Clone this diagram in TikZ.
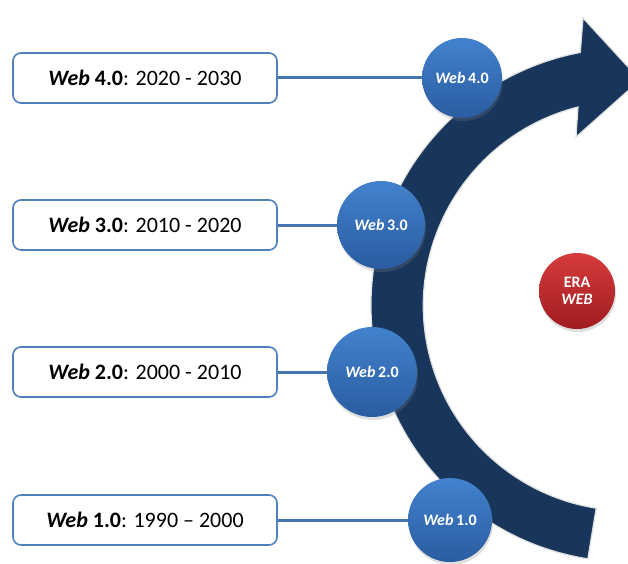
\documentclass[tikz,border=0pt]{standalone}
\usepackage{fontspec}
\setmainfont{Carlito}
\usetikzlibrary{shadows,calc}
\definecolor{navy}{RGB}{24,54,92}
\definecolor{boxblue}{RGB}{79,129,189}
\definecolor{linkblue}{RGB}{70,118,178}
\definecolor{ctop}{RGB}{66,130,205}
\definecolor{cbot}{RGB}{42,92,160}
\definecolor{rtop}{RGB}{214,60,60}
\definecolor{rbot}{RGB}{160,28,32}
\tikzset{
  erabox/.style={draw=boxblue, line width=1.6pt, rounded corners=8pt, fill=white,
    minimum width=264pt, minimum height=50pt, inner sep=0pt,
    font=\fontsize{22}{26}\selectfont},
  eraball/.style={circle, inner sep=0pt, text=white, top color=ctop, bottom color=cbot,
    font=\fontsize{16}{18}\selectfont\bfseries,
    drop shadow={opacity=0.25, shadow xshift=1pt, shadow yshift=-3pt}},
  link/.style={draw=linkblue, line width=3pt},
}
\begin{document}
\begin{tikzpicture}[x=1pt,y=1pt]
\useasboundingbox (0,0) rectangle (628,563);
\clip (0,0) rectangle (628,563);
\fill[white] (0,0) rectangle (628,563);
% arc band with arrow
\coordinate (ctr) at (628,258);
\draw[fill=navy, draw=gray!25, line width=1.2pt, line join=miter]
  ($(ctr)+(261:257)$) arc[start angle=261, end angle=100.7, radius=257]
  -- (583,545) -- (640,483) -- (576,426) -- (578,456)
  arc[start angle=104.2, end angle=261, radius=205] -- cycle;
% boxes
\node[erabox] (b4) at (145,485) {\textbf{\textit{Web} 4.0}: 2020 - 2030};
\node[erabox] (b3) at (145,338) {\textbf{\textit{Web} 3.0}: 2010 - 2020};
\node[erabox] (b2) at (145,191) {\textbf{\textit{Web} 2.0}: 2000 - 2010};
\node[erabox] (b1) at (145,43)  {\textbf{\textit{Web} 1.0}: 1990 – 2000};
% connectors (drawn under the circles)
\coordinate (k4) at (462,485);
\coordinate (k3) at (381,338);
\coordinate (k2) at (372,191);
\coordinate (k1) at (450,43);
\draw[link] (b4.east) -- (k4);
\draw[link] (b3.east) -- (k3);
\draw[link] (b2.east) -- (k2);
\draw[link] (b1.east) -- (k1);
% circles
\node[eraball, minimum size=80pt] (c4) at (k4) {\textit{Web}\,4.0};
\node[eraball, minimum size=88pt] (c3) at (k3) {\textit{Web}\,3.0};
\node[eraball, minimum size=90pt] (c2) at (k2) {\textit{Web}\,2.0};
\node[eraball, minimum size=84pt] (c1) at (k1) {\textit{Web}\,1.0};
\node[eraball, minimum size=76pt, top color=rtop, bottom color=rbot, align=center,
  font=\fontsize{16}{17}\selectfont\bfseries] (era) at (577,272) {ERA\\\textit{WEB}};
\end{tikzpicture}
\end{document}
